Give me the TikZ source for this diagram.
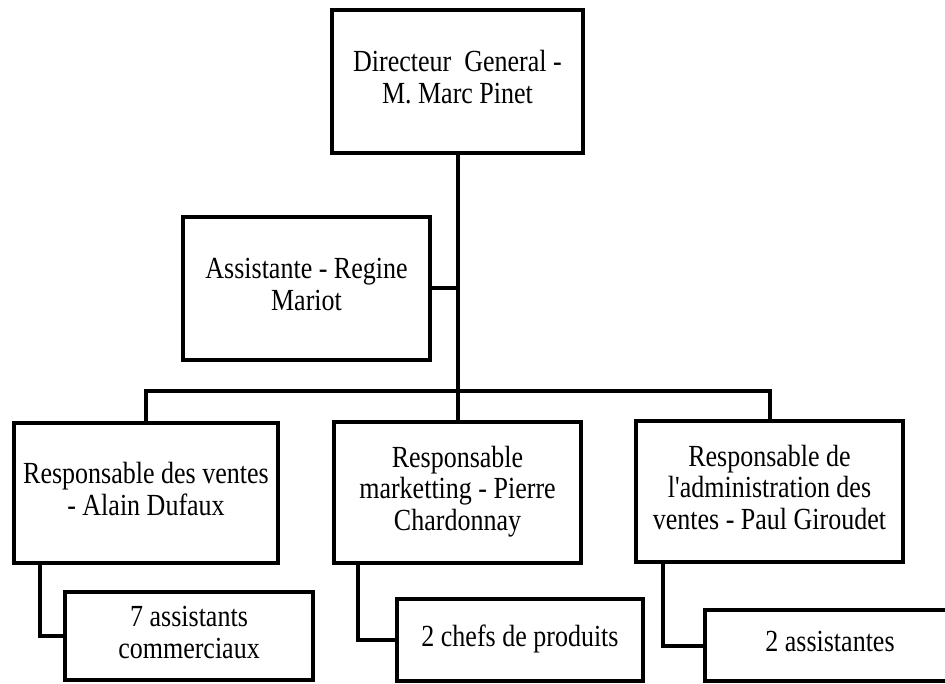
\documentclass[tikz,border=0pt]{standalone}
\usepackage{fontspec}
\usepackage{graphicx}
\setmainfont{Liberation Serif}
\newfontfamily\plainserif{Liberation Serif}
\newcommand\vtxt[1]{\scalebox{1}[1.18]{\fontsize{26}{27}\selectfont\begin{tabular}{@{}c@{}}#1\end{tabular}}}
\begin{document}
\begin{tikzpicture}[x=1pt,y=-1pt,
  box/.style={draw=black,line width=4pt,fill=white,rectangle,outer sep=0pt,inner sep=0pt,align=center},
  conn/.style={draw=black,line width=4pt,line join=miter}]
\useasboundingbox (0,0) rectangle (945,684);
\clip (0,0) rectangle (945,684);
\fill[white] (0,0) rectangle (945,684);
\node[box,minimum width=251pt,minimum height=143pt] (dg) at (457.5,81.5) {\vtxt{Directeur\enspace General -\\M. Marc Pinet}};
\node[box,minimum width=247pt,minimum height=143pt] (as) at (306.5,288.5) {\vtxt{Assistante - Regine\\Mariot}};
\node[box,minimum width=264pt,minimum height=140pt] (rv) at (146,493) {\vtxt{Responsable des ventes\\- Alain Dufaux}};
\node[box,minimum width=247pt,minimum height=141pt] (rm) at (457.5,492.5) {\vtxt{Responsable\\marketting - Pierre\\Chardonnay}};
\node[box,minimum width=267pt,minimum height=141pt] (ra) at (769.5,491.5) {\vtxt{Responsable de\\l{\plainserif '}administration des\\ventes - Paul Giroudet}};
\node[box,minimum width=248pt,minimum height=88pt] (c1) at (189,636) {\vtxt{7 assistants\\commerciaux}};
\node[box,minimum width=246pt,minimum height=82pt] (c2) at (520,640) {\vtxt{2 chefs de produits}};
\node[box,minimum width=250pt,minimum height=71pt] (c3) at (830,645.5) {\vtxt{2 assistantes}};
\coordinate (bus) at (0,391);
\draw[conn] (dg.south) -- (rm.north);
\draw[conn] (as.east) -- (as.east -| dg.south);
\draw[conn] (rv.north) -- (rv.north |- bus) -- (ra.north |- bus) -- (ra.north);
\draw[conn] ([xshift=26pt]rv.south west) |- (c1.west);
\draw[conn] ([xshift=24pt]rm.south west) |- (c2.west);
\draw[conn] ([xshift=27pt]ra.south west) |- (c3.west);
\end{tikzpicture}
\end{document}
